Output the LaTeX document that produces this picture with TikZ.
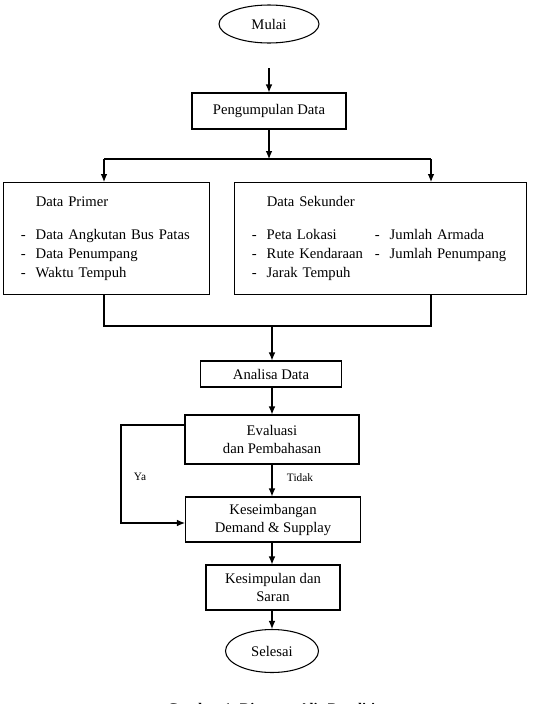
\documentclass[tikz,border=0pt]{standalone}
\usepackage{fontspec}
\setmainfont{Liberation Serif}
\usetikzlibrary{shapes.geometric, arrows.meta}
\begin{document}
\begin{tikzpicture}[x=0.75pt, y=-0.75pt]
        \tikzstyle{box_style} = [draw, line width=0.8pt, rectangle, align=center, inner sep=0pt, font=\fontsize{11}{13.5}\selectfont]
        \tikzstyle{oval_style} = [draw, line width=0.8pt, ellipse, inner sep=0pt, font=\fontsize{11}{13.5}\selectfont]
        \tikzstyle{list_style} = [box_style, align=left, anchor=north west, inner xsep=13pt, font=\fontsize{11}{14.3}\selectfont]
        \tikzstyle{arrow_style1} = [-{Latex[length=6pt, width=5pt]}, black, line width=0.8pt]
        \tikzstyle{line_style} = [black, line width=0.8pt]
        \tikzstyle{label_style} = [font=\fontsize{8.5}{10}\selectfont]

        \clip (0,0) rectangle (533,704);

        % Start and data collection
        \node[oval_style, minimum width=75pt, minimum height=28.5pt] (mulai) at (269,24) {Mulai};
        \coordinate (m1) at (269,68);
        \node[box_style, minimum width=115.5pt, minimum height=27pt] (kumpul) at (269,111) {Pengumpulan Data};

        \draw[arrow_style1] (m1) -- (kumpul.north);

        % The two kinds of data
        \node[list_style, minimum width=154.5pt, minimum height=84pt, text width=128.5pt] (primer) at (3,182)
            {\begin{tabular}{@{}l@{\hspace{7.5pt}}l@{}}
                & Data Primer\\[10.5pt]
              - & Data Angkutan Bus Patas\\
              - & Data Penumpang\\
              - & Waktu Tempuh
             \end{tabular}};
        \node[list_style, minimum width=219pt, minimum height=84pt, text width=193pt] (sekunder) at (234,182)
            {\begin{tabular}{@{}l@{\hspace{7.5pt}}l@{\hspace{9pt}}l@{\hspace{7.5pt}}l@{}}
                & Data Sekunder & & \\[10.5pt]
              - & Peta Lokasi & - & Jumlah Armada\\
              - & Rute Kendaraan & - & Jumlah Penumpang\\
              - & Jarak Tempuh & &
             \end{tabular}};

        \coordinate (split) at (269,159);
        \coordinate (a1) at (104,159);
        \coordinate (a2) at (431,159);
        \draw[arrow_style1] (kumpul.south) -- (split);
        \draw[line_style] (a1) -- (a2);
        \draw[arrow_style1] (a1) -- (a1 |- primer.north);
        \draw[arrow_style1] (a2) -- (a2 |- sekunder.north);

        % Joining both again
        \coordinate (b1) at (104,326);
        \coordinate (b2) at (431,326);
        \coordinate (bm) at (272,326);
        \draw[line_style] (b1 |- primer.south) -- (b1) -- (b2) -- (b2 |- sekunder.south);

        % Analysis down to the end
        \node[box_style, minimum width=105.75pt, minimum height=19.5pt] (analisa) at (271,374) {Analisa Data};
        \node[box_style, minimum width=130.5pt, minimum height=36.75pt] (evaluasi) at (272,439.5) {Evaluasi\\dan Pembahasan};
        \node[box_style, minimum width=131.25pt, minimum height=33.75pt] (seimbang) at (273,519.5) {Keseimbangan\\Demand \& Supplay};
        \node[box_style, minimum width=100.5pt, minimum height=33.75pt] (simpul) at (273,587.5) {Kesimpulan dan\\Saran};
        \node[oval_style, minimum width=69.75pt, minimum height=32.25pt] (selesai) at (272,651) {Selesai};

        \draw[arrow_style1] (bm) -- (bm |- analisa.north);
        \draw[arrow_style1] (analisa.south -| bm) -- (bm |- evaluasi.north);
        \draw[arrow_style1] (evaluasi.south -| bm) -- (bm |- seimbang.north);
        \draw[arrow_style1] (seimbang.south -| bm) -- (bm |- simpul.north);
        \draw[arrow_style1] (simpul.south -| bm) -- (bm |- selesai.north);

        % Loop back when balanced
        \coordinate (y1) at (121,425);
        \coordinate (y2) at (121,523);
        \draw[arrow_style1] (evaluasi.west |- y1) -- (y1) -- (y2) -- (seimbang.west |- y2);

        \node[label_style] (ya) at (140,477) {Ya};
        \node[label_style] (tidak) at (300,478) {Tidak};

        \node[font=\bfseries\fontsize{11}{13}\selectfont, anchor=base] (judul) at (279,713) {Gambar 1. Diagram Alir Penelitian};
    \end{tikzpicture}
\end{document}
